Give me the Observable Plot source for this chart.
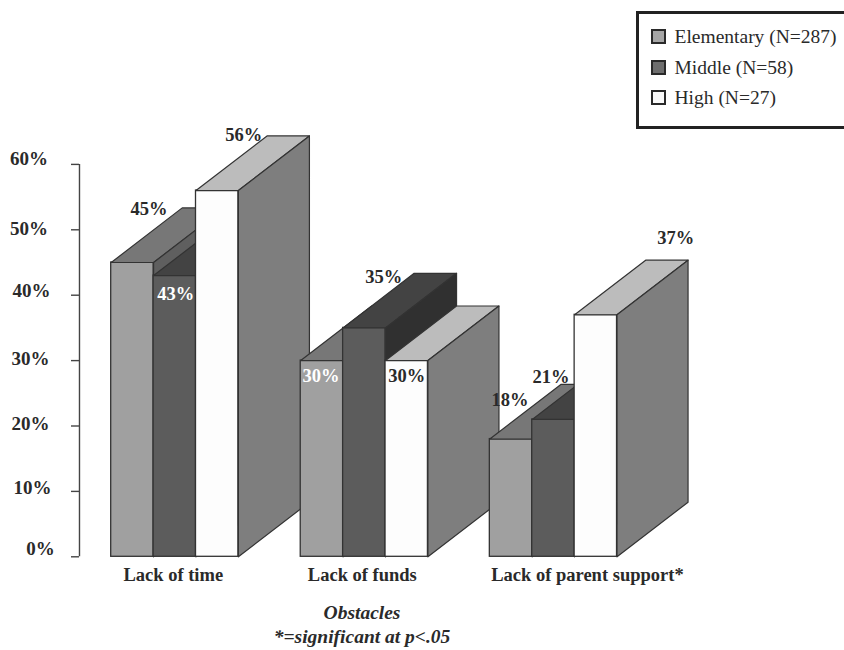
<!DOCTYPE html>
<html>
<head>
<meta charset="utf-8">
<script src="https://cdn.jsdelivr.net/npm/d3@7"></script>
<script src="https://cdn.jsdelivr.net/npm/@observablehq/plot@0.6"></script>
<style>
  html, body { margin: 0; padding: 0; background: #fff; }
  #wrap { position: relative; width: 844px; height: 650px; overflow: hidden; font-family: "Liberation Serif", serif; color: #2a2a2a; }
  #wrap svg { position: absolute; left: 0; top: 0; }
  #legend { position: absolute; left: 636px; top: 11px; width: 220px; height: 112px; border: 3px solid #222; background: #fff; box-sizing: content-box; }
  .row { position: absolute; left: 12px; height: 20px; line-height: 20px; font-size: 19.5px; white-space: nowrap; }
  .sw { display: inline-block; width: 11px; height: 11px; border: 2.5px solid #2a2a2a; margin-right: 8.5px; vertical-align: -1px; }
  #caption { position: absolute; left: 162px; width: 400px; top: 601px; text-align: center; font-style: italic; font-weight: bold; font-size: 19.5px; line-height: 24px; }
</style>
</head>
<body>
<div id="wrap"></div>
<script>
// Data
const categories = ["Lack of time", "Lack of funds", "Lack of parent support*"];
const levels = ["Elementary (N=287)", "Middle (N=58)", "High (N=27)"];
const elementary = [45, 30, 18];
const middle = [43, 35, 21];
const high = [56, 30, 37];
const yTicks = [0, 10, 20, 30, 40, 50, 60];

// Styles and layout (x unit = one bar width, y unit = percent)
const frontColors = ["#a0a0a0", "#5c5c5c", "#fdfdfd"];
const topColors = ["#777777", "#434343", "#bcbcbc"];
const sideColors = ["#5f5f5f", "#303030", "#7e7e7e"];
const swatchColors = ["#a6a6a6", "#6e6e6e", "#fafafa"];
const groupStart = [0, 4.47, 8.93];
const depthX = 1.675;
const depthY = 8.35;
const axisX = -0.748;
const edge = "#333333";
const tickLabelOffsets = [[-39, -8], [-47, -3], [-49, -2], [-49, -2], [-48, -4], [-50.5, -1], [-50.5, -5]];
const labelOffsets = [
  [[16.5, -53, "#2a2a2a"], [1, 18, "#ffffff"], [26.5, -55, "#2a2a2a"]],
  [[-1, 15, "#ffffff"], [19.5, -51, "#2a2a2a"], [0, 15, "#2a2a2a"]],
  [[-1, -39, "#2a2a2a"], [-2.5, -42, "#2a2a2a"], [80, -77, "#2a2a2a"]]
];
const categoryDx = [-1.5, -2, 34];

const series = [elementary, middle, high];
const marks = [];

// Axis
marks.push(Plot.ruleX([axisX], {y1: 0, y2: 60, stroke: "#444", strokeWidth: 1.4}));
marks.push(Plot.axisY({
  ticks: yTicks, anchor: "left", tickFormat: () => "",
  tickSize: 8, x: axisX, stroke: "#444", strokeWidth: 1.4, label: null
}));
yTicks.forEach((t, i) => {
  const [dx, dy] = tickLabelOffsets[i];
  marks.push(Plot.text([t], {
    x: () => axisX, y: d => d, text: d => d + "%",
    dx, dy, fontSize: 19, fontWeight: "bold", fill: "#2a2a2a"
  }));
});

// Bars, painted left to right
categories.forEach((cat, g) => {
  series.forEach((vals, s) => {
    const x1 = groupStart[g] + s, x2 = x1 + 1, v = vals[g];
    marks.push(Plot.rect([{x1, x2, y1: 0, y2: v}], {
      x1: "x1", x2: "x2", y1: "y1", y2: "y2", fill: frontColors[s], stroke: edge, strokeWidth: 1.3
    }));
    marks.push(Plot.line(
      [[x1, v], [x2, v], [x2 + depthX, v + depthY], [x1 + depthX, v + depthY]],
      {x: d => d[0], y: d => d[1], fill: topColors[s], stroke: edge, strokeWidth: 1.2, curve: "linear-closed"}
    ));
    marks.push(Plot.line(
      [[x2, 0], [x2, v], [x2 + depthX, v + depthY], [x2 + depthX, depthY]],
      {x: d => d[0], y: d => d[1], fill: sideColors[s], stroke: edge, strokeWidth: 1.2, curve: "linear-closed"}
    ));
  });
});

// Value labels on top of all bars
categories.forEach((cat, g) => {
  series.forEach((vals, s) => {
    const [dx, dy, fill] = labelOffsets[g][s];
    marks.push(Plot.text([vals[g]], {
      x: () => groupStart[g] + s + 0.5, y: d => d, text: d => d + "%",
      dx, dy, fill, fontSize: 18.5, fontWeight: "bold"
    }));
  });
});

// Category labels
categories.forEach((cat, g) => {
  marks.push(Plot.text([cat], {
    x: () => groupStart[g] + 1.5, y: () => 0, text: d => d,
    dx: categoryDx[g], dy: 18.5, fontSize: 18.5, fontWeight: "bold", fill: "#2a2a2a"
  }));
});

const chart = Plot.plot({
  width: 844, height: 650,
  marginLeft: 0, marginRight: 0, marginTop: 0, marginBottom: 0,
  style: {background: "transparent", fontFamily: "'Liberation Serif', serif", overflow: "visible"},
  x: {domain: [0, 13], range: [110.7, 110.7 + 13 * 42.4], axis: null},
  y: {domain: [0, 60], range: [556.3, 163.9], axis: null},
  marks
});

const wrap = document.getElementById("wrap");
wrap.appendChild(chart);

// Legend
const legend = document.createElement("div");
legend.id = "legend";
levels.forEach((name, i) => {
  const row = document.createElement("div");
  row.className = "row";
  row.style.top = (13 + i * 30.5) + "px";
  const sw = document.createElement("span");
  sw.className = "sw";
  sw.style.background = swatchColors[i];
  row.appendChild(sw);
  row.appendChild(document.createTextNode(name));
  legend.appendChild(row);
});
wrap.appendChild(legend);

// Caption
const caption = document.createElement("div");
caption.id = "caption";
caption.innerHTML = "Obstacles<br>*=significant at p&lt;.05";
wrap.appendChild(caption);
</script>
</body>
</html>
